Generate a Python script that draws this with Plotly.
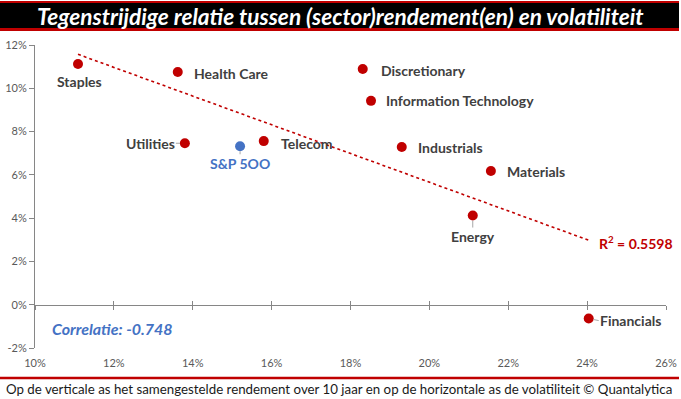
import plotly.graph_objects as go

# ---- data (volatility %, 10y return %) ----
sectors = ["Staples", "Health Care", "Discretionary", "Information Technology",
           "Utilities", "Telecom", "Industrials", "Materials", "Energy", "Financials"]
sector_vol = [11.09, 13.62, 18.31, 18.52, 13.80, 15.80, 19.30, 21.56, 21.10, 24.04]
sector_ret = [11.12, 10.75, 10.89, 9.42, 7.46, 7.56, 7.29, 6.18, 4.12, -0.64]

index_name = ["S&P 5OO"]
index_vol = [15.20]
index_ret = [7.32]

trend_x = [11.09, 24.04]
trend_y = [11.57, 2.98]

x_ticks = [10, 12, 14, 16, 18, 20, 22, 24, 26]
y_ticks = [-2, 0, 2, 4, 6, 8, 10, 12]

title_text = "Tegenstrijdige relatie tussen (sector)rendement(en) en volatiliteit"
footer_text = "Op de verticale as het samengestelde rendement over 10 jaar en op de horizontale as de volatiliteit © Quantalytica"
corr_text = "Correlatie: -0.748"
r2_text = "R<sup>2</sup> = 0.5598"

# label placement: (anchor, dx, dy, leader line) in pixels
label_pos = {
    "Staples": ("center", 2, 17, False),
    "Health Care": ("left", 14, 1, False),
    "Discretionary": ("left", 16, 1, False),
    "Information Technology": ("left", 13, 0, False),
    "Utilities": ("right", -9, 0, True),
    "Telecom": ("left", 15, 2, False),
    "Industrials": ("left", 14, 1, False),
    "Materials": ("left", 14, 1, False),
    "Energy": ("center", 0, 21, True),
    "Financials": ("left", 10, 2, True),
}

W, H = 681, 399
ML, MR, MT, MB = 35, 15, 45, 51
PW = W - ML - MR
PH = H - MT - MB

def py(p):
    return (H - MB - p) / PH

def px(p):
    return (p - ML) / PW

FONT = "Lato"
RED = "#C00000"
BLUE = "#4472C4"
AX = "#868686"
LEADER = "#A6A6A6"

fig = go.Figure()

fig.add_trace(go.Scatter(x=trend_x, y=trend_y, mode="lines",
                         line=dict(color=RED, width=1.6, dash="dot"),
                         hoverinfo="skip", showlegend=False))
fig.add_trace(go.Scatter(x=sector_vol, y=sector_ret, mode="markers",
                         marker=dict(color=RED, size=10),
                         text=sectors, showlegend=False))
fig.add_trace(go.Scatter(x=index_vol, y=index_ret, mode="markers",
                         marker=dict(color=BLUE, size=10),
                         text=index_name, showlegend=False))
# helper traces so the axis-at-zero overlays are drawn
for ax in ("x2", "x3"):
    fig.add_trace(go.Scatter(x=trend_x, y=trend_y, xaxis=ax, mode="lines",
                             line=dict(width=0, color="rgba(0,0,0,0)"),
                             hoverinfo="skip", showlegend=False))

def label(vx, vy, text, anchor, dx, dy, leader, color):
    f = dict(family=FONT, size=14, color=color, weight="bold")
    if leader:
        fig.add_annotation(x=vx, y=vy, text=text, showarrow=True, arrowhead=0,
                           arrowwidth=1, arrowcolor=LEADER, standoff=5,
                           ax=dx, ay=dy, xanchor=anchor, yanchor="middle",
                           borderpad=0, font=f)
    else:
        fig.add_annotation(x=vx, y=vy, text=text, showarrow=False,
                           xanchor=anchor, yanchor="middle", xshift=dx, yshift=-dy,
                           font=f)

for name, vx, vy in zip(sectors, sector_vol, sector_ret):
    anchor, dx, dy, leader = label_pos[name]
    label(vx, vy, name, anchor, dx, dy, leader, "#404040")
for name, vx, vy in zip(index_name, index_vol, index_ret):
    label(vx, vy, name, "center", 0, 17, True, BLUE)

fig.add_annotation(x=trend_x[1], y=trend_y[1], text=r2_text, showarrow=False,
                   xanchor="left", yanchor="middle", xshift=8, yshift=-2,
                   font=dict(family=FONT, size=14, color=RED, weight="bold"))
fig.add_annotation(xref="paper", yref="paper", x=px(112), y=py(328),
                   text="<i>" + corr_text + "</i>", showarrow=False,
                   xanchor="center", yanchor="middle",
                   font=dict(family=FONT, size=16, color=BLUE, weight="bold"))

# title bar
fig.add_shape(type="rect", xref="paper", yref="paper",
              x0=px(0), x1=px(679), y0=py(31), y1=py(1),
              fillcolor=RED, line_width=0, layer="above")
fig.add_shape(type="rect", xref="paper", yref="paper",
              x0=px(0), x1=px(679), y0=py(28), y1=py(3),
              fillcolor="black", line_width=0, layer="above")
fig.add_annotation(xref="paper", yref="paper", x=px(340), y=py(16),
                   text="<i>" + title_text + "</i>", showarrow=False,
                   xanchor="center", yanchor="middle",
                   font=dict(family=FONT, size=22.6, color="white", weight="bold"))
# footer
fig.add_shape(type="line", xref="paper", yref="paper",
              x0=px(0), x1=px(679), y0=py(378), y1=py(378),
              line=dict(color=RED, width=2.5))
fig.add_annotation(xref="paper", yref="paper", x=px(339), y=py(389),
                   text=footer_text, showarrow=False,
                   xanchor="center", yanchor="middle",
                   font=dict(family=FONT, size=13.3, color="#1a1a1a"))

zero_pos = (0 - y_ticks[0]) / (y_ticks[-1] - y_ticks[0])
common_x = dict(range=[x_ticks[0], x_ticks[-1]], tickvals=x_ticks, showgrid=False,
                zeroline=False, fixedrange=True, automargin=False)

fig.update_layout(
    width=W, height=H,
    margin=dict(l=ML, r=MR, t=MT, b=MB, autoexpand=False),
    paper_bgcolor="white", plot_bgcolor="white",
    font=dict(family=FONT),
    xaxis=dict(**common_x, showline=False, ticks="outside", ticklen=5,
               tickcolor="rgba(0,0,0,0)", ticktext=[f"{v}%" for v in x_ticks],
               tickmode="array",
               tickfont=dict(family=FONT, size=11, color="#595959")),
    xaxis2=dict(**common_x, overlaying="x", anchor="free", position=zero_pos,
                showline=True, linecolor=AX, linewidth=1, ticks="outside",
                ticklen=4, tickcolor=AX, showticklabels=False),
    xaxis3=dict(**common_x, overlaying="x", anchor="free", position=zero_pos,
                showline=False, ticks="inside", ticklen=4, tickcolor=AX,
                showticklabels=False),
    yaxis=dict(range=[y_ticks[0], y_ticks[-1]], tickvals=y_ticks, tickmode="array",
               ticktext=[f"{v}%" for v in y_ticks], showgrid=False, zeroline=False,
               showline=True, linecolor=AX, ticks="outside", ticklen=5, tickcolor=AX,
               automargin=False, fixedrange=True,
               tickfont=dict(family=FONT, size=11, color="#595959")),
)

fig.write_html("out.html", config={"displayModeBar": False},
               post_script="document.body.style.margin='0';document.body.style.padding='0';")
